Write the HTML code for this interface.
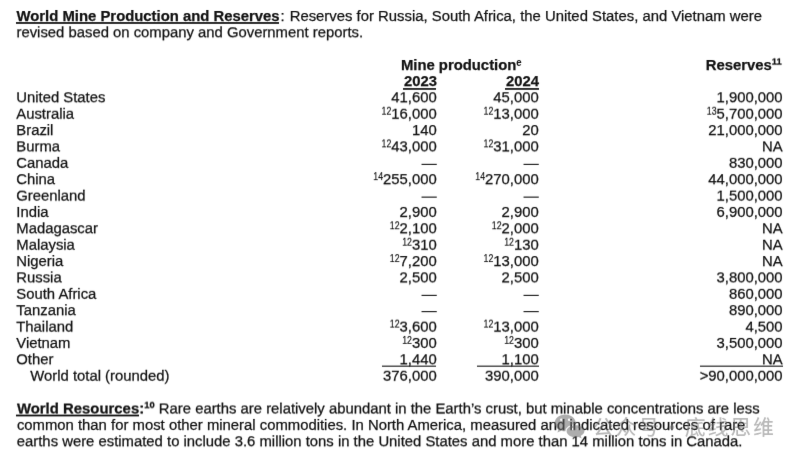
<!DOCTYPE html>
<html><head><meta charset="utf-8"><title>World Mine Production and Reserves</title>
<style>
html,body{margin:0;padding:0;background:#fff;}
body{width:800px;height:459px;overflow:hidden;position:relative;font-family:"Liberation Sans","Noto Sans CJK SC",sans-serif;font-size:14.85px;color:#121212;line-height:17px;-webkit-text-stroke:0.25px #121212;}
#pg{position:absolute;left:0;top:0;width:800px;height:459px;filter:url(#bl);}
.r{position:absolute;left:0;width:800px;height:17px;}
.l{position:absolute;top:0;white-space:nowrap;height:17px;}
.a{right:363.3px;text-align:right;}
.b{right:261.3px;text-align:right;}
.c{right:17.4px;text-align:right;}
sup{display:inline-block;font-size:8.8px;line-height:1;vertical-align:baseline;transform:translateY(-3.7px) scaleY(1.18);transform-origin:0 84.6%;-webkit-text-stroke-width:0.12px;}
b sup{font-size:9.4px;transform:translateY(-6.1px) scaleY(1.06);-webkit-text-stroke-width:0.25px;filter:url(#s5);}
b sup.se{font-size:9.6px;transform:translateY(-4.1px) scaleY(1.13);-webkit-text-stroke-width:0.05px;filter:none;}
.ul{position:absolute;height:1px;background:#121212;}
.wm{position:absolute;left:593px;top:410px;height:32px;color:rgba(115,115,115,.5);font-size:20.5px;letter-spacing:2.2px;line-height:32px;white-space:nowrap;font-family:"Noto Sans CJK SC","Liberation Sans",sans-serif;-webkit-text-stroke:0.15px rgba(115,115,115,.5);}
</style></head><body>
<svg width="0" height="0" style="position:absolute"><defs>
<filter id="bl" x="0" y="0" width="100%" height="100%" color-interpolation-filters="sRGB"><feConvolveMatrix order="3 3" targetX="1" targetY="1" divisor="1" kernelMatrix="0.00420 0.05640 0.00420 0.05640 0.75760 0.05640 0.00420 0.05640 0.00420" edgeMode="duplicate" preserveAlpha="false"/></filter>
<filter id="s1" x="0" y="-20%" width="100%" height="140%" color-interpolation-filters="sRGB"><feConvolveMatrix order="1 4" targetX="0" targetY="2" divisor="1" kernelMatrix="-0.0405 0.9765 0.0685 -0.0045" edgeMode="none" preserveAlpha="false"/></filter>
<filter id="s2" x="0" y="-20%" width="100%" height="140%" color-interpolation-filters="sRGB"><feConvolveMatrix order="1 4" targetX="0" targetY="2" divisor="1" kernelMatrix="-0.0640 0.9120 0.1680 -0.0160" edgeMode="none" preserveAlpha="false"/></filter>
<filter id="s3" x="0" y="-20%" width="100%" height="140%" color-interpolation-filters="sRGB"><feConvolveMatrix order="1 4" targetX="0" targetY="2" divisor="1" kernelMatrix="-0.0735 0.8155 0.2895 -0.0315" edgeMode="none" preserveAlpha="false"/></filter>
<filter id="s4" x="0" y="-20%" width="100%" height="140%" color-interpolation-filters="sRGB"><feConvolveMatrix order="1 4" targetX="0" targetY="2" divisor="1" kernelMatrix="-0.0720 0.6960 0.4240 -0.0480" edgeMode="none" preserveAlpha="false"/></filter>
<filter id="s5" x="0" y="-20%" width="100%" height="140%" color-interpolation-filters="sRGB"><feConvolveMatrix order="1 4" targetX="0" targetY="2" divisor="1" kernelMatrix="-0.0625 0.5625 0.5625 -0.0625" edgeMode="none" preserveAlpha="false"/></filter>
<filter id="s6" x="0" y="-20%" width="100%" height="140%" color-interpolation-filters="sRGB"><feConvolveMatrix order="1 4" targetX="0" targetY="2" divisor="1" kernelMatrix="-0.0480 0.4240 0.6960 -0.0720" edgeMode="none" preserveAlpha="false"/></filter>
<filter id="s7" x="0" y="-20%" width="100%" height="140%" color-interpolation-filters="sRGB"><feConvolveMatrix order="1 4" targetX="0" targetY="2" divisor="1" kernelMatrix="-0.0315 0.2895 0.8155 -0.0735" edgeMode="none" preserveAlpha="false"/></filter>
<filter id="s8" x="0" y="-20%" width="100%" height="140%" color-interpolation-filters="sRGB"><feConvolveMatrix order="1 4" targetX="0" targetY="2" divisor="1" kernelMatrix="-0.0160 0.1680 0.9120 -0.0640" edgeMode="none" preserveAlpha="false"/></filter>
<filter id="s9" x="0" y="-20%" width="100%" height="140%" color-interpolation-filters="sRGB"><feConvolveMatrix order="1 4" targetX="0" targetY="2" divisor="1" kernelMatrix="-0.0045 0.0685 0.9765 -0.0405" edgeMode="none" preserveAlpha="false"/></filter>
</defs></svg>
<div id="pg">
<div class="r" style="top:8px;"><div class="l " style="left:16.5px;word-spacing:0.06px;"><b>World Mine Production and Reserves</b><span style="margin:0 0.9px 0 0.9px">:</span> Reserves for Russia, South Africa, the United States, and Vietnam were</div></div>
<div class="ul" style="left:16px;width:263.3px;top:22px;opacity:0.90"></div>
<div class="ul" style="left:16px;width:263.3px;top:23px;opacity:0.85"></div>
<div class="r" style="top:24px;filter:url(#s3);"><div class="l " style="left:16.5px;">revised based on company and Government reports.</div></div>
<div class="r" style="top:57px;"><div class="l " style="left:400.9px;"><b>Mine production<sup class="se">e</sup></b></div><div class="l " style="right:18.4px;text-align:right;"><b>Reserves<sup>11</sup></b></div></div>
<div class="r" style="top:73px;filter:url(#s1);"><div class="l " style="right:362.9px;text-align:right;"><b>2023</b></div><div class="l " style="right:260.9px;text-align:right;"><b>2024</b></div></div>
<div class="ul" style="left:402.9px;width:33.5px;top:88px;opacity:0.90"></div>
<div class="ul" style="left:402.9px;width:33.5px;top:89px;opacity:0.80"></div>
<div class="ul" style="left:505.3px;width:33.3px;top:88px;opacity:0.90"></div>
<div class="ul" style="left:505.3px;width:33.3px;top:89px;opacity:0.80"></div>
<div class="r" style="top:89px;filter:url(#s3);"><div class="l " style="left:16.3px;">United States</div><div class="l a" style="">41,600</div><div class="l b" style="">45,000</div><div class="l c" style="">1,900,000</div></div>
<div class="r" style="top:105px;filter:url(#s7);"><div class="l " style="left:16.3px;">Australia</div><div class="l a" style=""><sup>12</sup>16,000</div><div class="l b" style=""><sup>12</sup>13,000</div><div class="l c" style=""><sup>13</sup>5,700,000</div></div>
<div class="r" style="top:122px;filter:url(#s1);"><div class="l " style="left:16.3px;">Brazil</div><div class="l a" style="">140</div><div class="l b" style="">20</div><div class="l c" style="">21,000,000</div></div>
<div class="r" style="top:138px;filter:url(#s4);"><div class="l " style="left:16.3px;">Burma</div><div class="l a" style=""><sup>12</sup>43,000</div><div class="l b" style=""><sup>12</sup>31,000</div><div class="l c" style="">NA</div></div>
<div class="r" style="top:154px;filter:url(#s8);"><div class="l " style="left:16.3px;">Canada</div><div class="l a" style="">—</div><div class="l b" style="">—</div><div class="l c" style="">830,000</div></div>
<div class="r" style="top:171px;filter:url(#s2);"><div class="l " style="left:16.3px;">China</div><div class="l a" style=""><sup>14</sup>255,000</div><div class="l b" style=""><sup>14</sup>270,000</div><div class="l c" style="">44,000,000</div></div>
<div class="r" style="top:187px;filter:url(#s6);"><div class="l " style="left:16.3px;">Greenland</div><div class="l a" style="">—</div><div class="l b" style="">—</div><div class="l c" style="">1,500,000</div></div>
<div class="r" style="top:203px;filter:url(#s9);"><div class="l " style="left:16.3px;">India</div><div class="l a" style="">2,900</div><div class="l b" style="">2,900</div><div class="l c" style="">6,900,000</div></div>
<div class="r" style="top:220px;filter:url(#s3);"><div class="l " style="left:16.3px;">Madagascar</div><div class="l a" style=""><sup>12</sup>2,100</div><div class="l b" style=""><sup>12</sup>2,000</div><div class="l c" style="">NA</div></div>
<div class="r" style="top:236px;filter:url(#s7);"><div class="l " style="left:16.3px;">Malaysia</div><div class="l a" style=""><sup>12</sup>310</div><div class="l b" style=""><sup>12</sup>130</div><div class="l c" style="">NA</div></div>
<div class="r" style="top:253px;filter:url(#s1);"><div class="l " style="left:16.3px;">Nigeria</div><div class="l a" style=""><sup>12</sup>7,200</div><div class="l b" style=""><sup>12</sup>13,000</div><div class="l c" style="">NA</div></div>
<div class="r" style="top:269px;filter:url(#s4);"><div class="l " style="left:16.3px;">Russia</div><div class="l a" style="">2,500</div><div class="l b" style="">2,500</div><div class="l c" style="">3,800,000</div></div>
<div class="r" style="top:285px;filter:url(#s8);"><div class="l " style="left:16.3px;">South Africa</div><div class="l a" style="">—</div><div class="l b" style="">—</div><div class="l c" style="">860,000</div></div>
<div class="r" style="top:302px;filter:url(#s2);"><div class="l " style="left:16.3px;">Tanzania</div><div class="l a" style="">—</div><div class="l b" style="">—</div><div class="l c" style="">890,000</div></div>
<div class="r" style="top:318px;filter:url(#s6);"><div class="l " style="left:16.3px;">Thailand</div><div class="l a" style=""><sup>12</sup>3,600</div><div class="l b" style=""><sup>12</sup>13,000</div><div class="l c" style="">4,500</div></div>
<div class="r" style="top:334px;filter:url(#s9);"><div class="l " style="left:16.3px;">Vietnam</div><div class="l a" style=""><sup>12</sup>300</div><div class="l b" style=""><sup>12</sup>300</div><div class="l c" style="">3,500,000</div></div>
<div class="r" style="top:351px;filter:url(#s3);"><div class="l " style="left:16.3px;">Other</div><div class="l a" style="">1,440</div><div class="l b" style="">1,100</div><div class="l c" style="">NA</div></div>
<div class="ul" style="left:382.4px;width:54.1px;top:365px;opacity:0.38"></div>
<div class="ul" style="left:382.4px;width:54.1px;top:366px;opacity:0.72"></div>
<div class="ul" style="left:477px;width:61.9px;top:365px;opacity:0.38"></div>
<div class="ul" style="left:477px;width:61.9px;top:366px;opacity:0.72"></div>
<div class="ul" style="left:699.7px;width:82.9px;top:365px;opacity:0.38"></div>
<div class="ul" style="left:699.7px;width:82.9px;top:366px;opacity:0.72"></div>
<div class="r" style="top:367px;filter:url(#s7);"><div class="l " style="left:30.3px;">World total (rounded)</div><div class="l a" style="">376,000</div><div class="l b" style="">390,000</div><div class="l c" style="">&gt;90,000,000</div></div>
<div class="r" style="top:400px;filter:url(#s5);"><div class="l " style="left:16.9px;word-spacing:0.03px;"><b style="letter-spacing:0.03px">World Resources:<sup>10</sup></b> Rare earths are relatively abundant in the Earth’s crust, but minable concentrations are less</div></div>
<div class="ul" style="left:16px;width:122.6px;top:414px;opacity:0.40"></div>
<div class="ul" style="left:16px;width:122.6px;top:415px;opacity:1.00"></div>
<div class="ul" style="left:16px;width:122.6px;top:416px;opacity:0.40"></div>
<div class="r" style="top:416px;filter:url(#s9);"><div class="l " style="left:16.9px;word-spacing:0.055px;">common than for most other mineral commodities. In North America, measured and indicated resources of rare</div></div>
<div class="r" style="top:433px;filter:url(#s3);"><div class="l " style="left:16.8px;word-spacing:0.02px;">earths were estimated to include 3.6 million tons in the United States and more than 14 million tons in Canada.</div></div>
<svg class="wi" width="34" height="28" viewBox="0 0 34 28" style="position:absolute;left:553px;top:412px"><defs><mask id="wm1"><rect width="34" height="28" fill="#fff"/><ellipse cx="22.500" cy="19.200" rx="10" ry="7" fill="#000"/><circle cx="8.300" cy="7.700" r="1.200" fill="#000"/><circle cx="16.100" cy="7.700" r="1.200" fill="#000"/></mask><mask id="wm2"><rect width="34" height="28" fill="#fff"/><circle cx="19.600" cy="17" r="1" fill="#000"/><circle cx="25.600" cy="17" r="1" fill="#000"/></mask></defs><g fill="rgba(105,105,105,.55)"><path mask="url(#wm1)" d="M12.200 2.600C6.400 2.600 1.700 6.400 1.700 11c0 2.600 1.500 4.900 3.800 6.400l-1.100 3.200 3.800-1.900c1.200.400 2.600.600 4 .600 5.800 0 10.500-3.700 10.500-8.300S18 2.600 12.200 2.600z"/><path mask="url(#wm2)" d="M22.500 13.300c-4.900 0-8.900 2.700-8.900 6s4 6 8.900 6c1.100 0 2.200-.100 3.100-.400l3 1.500-.800-2.600c2.200-1.100 3.600-2.700 3.600-4.500 0-3.300-4-6-8.900-6z"/></g></svg>
<div class="wm">公众号<span style="display:inline-block;width:24px;text-align:center">·</span>底线思维</div>
</div></body></html>
